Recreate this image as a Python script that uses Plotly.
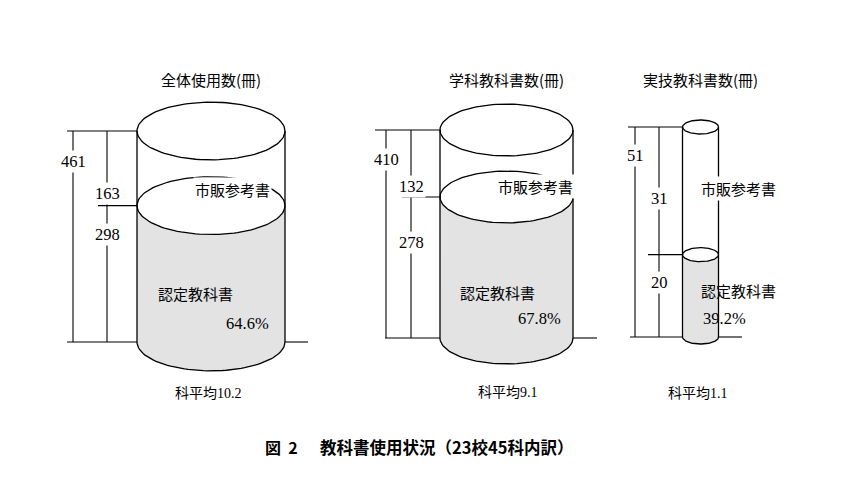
import numpy as np
import plotly.graph_objects as go

# ---------------- data ----------------
titles = ["全体使用数(冊)", "学科教科書数(冊)", "実技教科書数(冊)"]
totals = [461, 410, 51]
market = [163, 132, 31]        # 市販参考書
approved = [298, 278, 20]      # 認定教科書
approved_pct = [64.6, 67.8, 39.2]
subject_avg = [10.2, 9.1, 1.1]
market_label = "市販参考書"
approved_label = "認定教科書"
avg_prefix = "科平均"
fig_no = "図\u00a0\u00a02"
fig_title = "教科書使用状況（23校45科内訳）"

# ---------------- layout geometry (screen pixels) ----------------
W, H = 853, 500
OFF = 8  # default page body margin
CX = [211, 506.5, 700.5]
RX = [74, 66.5, 18]
BASE = [342, 338, 337]
TOP = [131, 130, 127]
RY_RATIO = 0.39
DIM1_X = [73, 386, 635]
DIM2_X = [107, 411, 659]
TOPLINE_X0 = [67, 375, 628]
MIDLINE_X0 = [98, 402, 648]
BASELINE_X0 = [67, 385, 630]
BASELINE_X1 = [308, 597, 742]
TITLE_Y = 79
TOTAL_LBL_Y = [161, 159, 155]
MARKET_LBL_Y = [193, 186, 198]
APPR_LBL_Y = [235, 242, 282]
MARKET_TXT = [(232, 189), (535, 186), (738, 188)]
APPR_TXT = [(195, 293), (497, 292), (738, 290)]
PCT_TXT = [(247, 323), (539, 318), (724, 318)]
AVG_TXT = [(208, 393), (508, 392), (698, 393)]

GRAY = "#e3e3e3"
SERIF = "Liberation Serif, Noto Sans CJK JP"
CJK = "Noto Sans CJK JP"

fig = go.Figure()
yaxes = ["y", "y2", "y3"]
layout_axes = {}
t_full = np.linspace(0, 2 * np.pi, 121)
t_half = np.linspace(0, np.pi, 61)

for i in range(3):
    s = (BASE[i] - TOP[i]) / totals[i]          # pixels per unit
    lo = -(H - (BASE[i] - OFF)) / s
    hi = lo + H / s
    name = "yaxis" if i == 0 else f"yaxis{i + 1}"
    ax = dict(range=[lo, hi], domain=[0, 1], visible=False, fixedrange=True)
    if i > 0:
        ax["overlaying"] = "y"
    layout_axes[name] = ax

    cx, a = CX[i], RX[i]
    ry = RY_RATIO * a / s
    tot, ap = totals[i], approved[i]

    # gray body of 認定教科書 part
    gx = [cx - a, cx - a]
    gy = [ap, 0]
    tt = np.linspace(np.pi, 0, 61)
    gx += list(cx + a * np.cos(tt))
    gy += list(0 - ry * np.sin(tt))
    gx += [cx + a]
    gy += [ap]
    tt = np.linspace(0, np.pi, 61)
    gx += list(cx + a * np.cos(tt))
    gy += list(ap - ry * np.sin(tt))
    fig.add_trace(go.Scatter(x=gx, y=gy, yaxis=yaxes[i], mode="lines",
                             fill="toself", fillcolor=GRAY,
                             line=dict(width=0), hoverinfo="skip"))

    # cylinder outline
    lx, ly = [], []
    for v in (tot, ap):
        lx += list(cx + a * np.cos(t_full)) + [None]
        ly += list(v + ry * np.sin(t_full)) + [None]
    lx += list(cx + a * np.cos(t_half)) + [None]
    ly += list(0 - ry * np.sin(t_half)) + [None]
    lx += [cx - a, cx - a, None, cx + a, cx + a, None]
    ly += [tot, 0, None, tot, 0, None]
    fig.add_trace(go.Scatter(x=lx, y=ly, yaxis=yaxes[i], mode="lines",
                             line=dict(color="black", width=1.3),
                             hoverinfo="skip"))

    # dimension lines
    dx = [TOPLINE_X0[i], cx - a, None,
          MIDLINE_X0[i], cx - a, None,
          BASELINE_X0[i], cx - a, None,
          cx + a, BASELINE_X1[i], None,
          DIM1_X[i], DIM1_X[i], None,
          DIM2_X[i], DIM2_X[i], None]
    dy = [tot, tot, None,
          ap, ap, None,
          0, 0, None,
          0, 0, None,
          tot, 0, None,
          tot, 0, None]
    fig.add_trace(go.Scatter(x=dx, y=dy, yaxis=yaxes[i], mode="lines",
                             line=dict(color="black", width=1.1),
                             hoverinfo="skip"))

annotations = []


def ann(x, py, text, font, size, bg=None, xanchor="center", bold=False):
    d = dict(x=x, y=1 - (py - OFF) / H, xref="x", yref="paper", text=text,
             showarrow=False, xanchor=xanchor, yanchor="middle",
             font=dict(family=font, size=size, color="black",
                       weight="bold" if bold else "normal"))
    if bg:
        d["bgcolor"] = bg
        d["borderpad"] = 1
    annotations.append(d)


for i in range(3):
    ann(CX[i], TITLE_Y, titles[i], CJK, 15)
    ann(DIM1_X[i], TOTAL_LBL_Y[i], str(totals[i]), SERIF, 16.5, bg="white")
    ann(DIM2_X[i], MARKET_LBL_Y[i], str(market[i]), SERIF, 16.5, bg="white")
    ann(DIM2_X[i], APPR_LBL_Y[i], str(approved[i]), SERIF, 16.5, bg="white")
    ann(MARKET_TXT[i][0], MARKET_TXT[i][1], market_label, CJK, 15, bg="white")
    ann(APPR_TXT[i][0], APPR_TXT[i][1], approved_label, CJK, 15)
    ann(PCT_TXT[i][0], PCT_TXT[i][1], f"{approved_pct[i]}%", SERIF, 16.5)
    ann(AVG_TXT[i][0], AVG_TXT[i][1], f"{avg_prefix}{subject_avg[i]}", SERIF, 14)

ann(263, 447, fig_no, CJK, 16, xanchor="left", bold=True)
ann(318, 447, fig_title, CJK, 16.5, xanchor="left", bold=True)

fig.update_layout(
    width=W, height=H, autosize=False,
    margin=dict(l=0, r=0, t=0, b=0),
    paper_bgcolor="white", plot_bgcolor="white",
    showlegend=False,
    xaxis=dict(range=[OFF, W + OFF], domain=[0, 1], visible=False,
               fixedrange=True),
    annotations=annotations,
    **layout_axes,
)

fig.write_html("out.html")
